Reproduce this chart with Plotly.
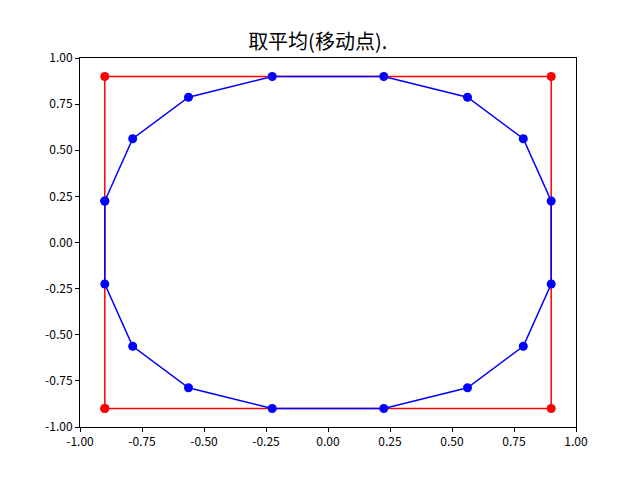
import plotly.graph_objects as go

square_x = [-0.9, 0.9, 0.9, -0.9, -0.9]
square_y = [-0.9, -0.9, 0.9, 0.9, -0.9]

smooth_x = [-0.9, -0.7875, -0.5625, -0.225, 0.225, 0.5625, 0.7875, 0.9,
            0.9, 0.7875, 0.5625, 0.225, -0.225, -0.5625, -0.7875, -0.9, -0.9]
smooth_y = [0.225, 0.5625, 0.7875, 0.9, 0.9, 0.7875, 0.5625, 0.225,
            -0.225, -0.5625, -0.7875, -0.9, -0.9, -0.7875, -0.5625, -0.225, 0.225]

tick_vals = [-1.0, -0.75, -0.5, -0.25, 0.0, 0.25, 0.5, 0.75, 1.0]
tick_text = ["-1.00", "-0.75", "-0.50", "-0.25", "0.00", "0.25", "0.50", "0.75", "1.00"]

title_text = "取平均(移动点)."

fig = go.Figure()
fig.add_trace(go.Scatter(x=square_x, y=square_y, mode="lines+markers",
                         line=dict(color="red", width=1.5),
                         marker=dict(color="red", size=9), showlegend=False))
fig.add_trace(go.Scatter(x=smooth_x, y=smooth_y, mode="lines+markers",
                         line=dict(color="blue", width=1.5),
                         marker=dict(color="blue", size=9), showlegend=False))

axis_common = dict(
    tickvals=tick_vals, ticktext=tick_text, showgrid=False, zeroline=False,
    showline=True, linecolor="black", linewidth=1, mirror=True,
    ticks="outside", ticklen=4, tickwidth=1, tickcolor="black",
    tickfont=dict(family="Noto Sans CJK SC", size=12, color="black"),
)
fig.update_xaxes(range=[-1, 1], **axis_common)
fig.update_yaxes(range=[-1, 1], **axis_common)

fig.update_layout(
    width=632, height=472,
    margin=dict(l=72, r=64, t=50, b=53),
    plot_bgcolor="white", paper_bgcolor="white",
    title=dict(text=title_text, x=0.49, xanchor="center", y=0.928, yanchor="middle",
               font=dict(family="Noto Sans CJK SC", size=20, color="black")),
)

fig.write_html("out.html")
